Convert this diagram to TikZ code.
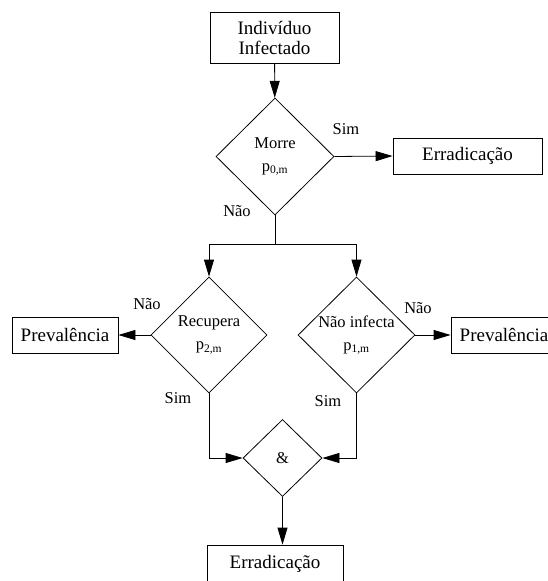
\documentclass[tikz,border=0pt]{standalone}
\usepackage{fontspec}
\setmainfont{Liberation Serif}
\usetikzlibrary{shapes.geometric,arrows.meta}

\tikzset{
	caixa/.style={draw, rectangle, inner sep=0pt, align=center, font=\fontsize{19}{20}\selectfont},
	decisao/.style={draw, diamond, aspect=1, inner sep=0pt, align=center, font=\fontsize{16.5}{23}\selectfont},
	rotulo/.style={inner sep=0pt, font=\fontsize{16.5}{19}\selectfont},
	seta/.style={-{Triangle[length=17pt,width=10pt]}}
}

\begin{document}
\begin{tikzpicture}[x=1pt,y=-1pt,line width=0.8pt]

	\useasboundingbox (0,0) rectangle (547,581);

	% caixas
	\node[caixa, minimum width=129pt, minimum height=51pt] (inicio) at (274.5,37.5) {Indivíduo\\Infectado};
	\node[caixa, minimum width=149pt, minimum height=36pt] (erra1) at (467.5,156) {Erradicação};
	\node[caixa, minimum width=106pt, minimum height=36pt] (prev1) at (65,335) {Prevalência};
	\node[caixa, minimum width=106pt, minimum height=36pt] (prev2) at (504,335) {Prevalência};
	\node[caixa, minimum width=136pt, minimum height=38pt] (erra2) at (275,564) {Erradicação};

	% decisoes
	\node[decisao, minimum width=118pt, minimum height=117pt] (morre) at (275,156.5) {Morre\\p\textsubscript{0,m}};
	\node[decisao, minimum width=116pt, minimum height=116pt] (recup) at (209,335) {Recupera\\p\textsubscript{2,m}};
	\node[decisao, minimum width=117pt, minimum height=116pt] (ninf) at (356.5,335) {Não infecta\\p\textsubscript{1,m}};
	\node[decisao, minimum width=79pt, minimum height=77pt] (e) at (282.5,458) {\&};

	\coordinate (divide) at (275,244.5);

	% ligacoes
	\draw[seta] (inicio) -- (morre);
	\draw[seta] (morre.east) -- (erra1.west);
	\draw (morre.south) -- (divide);
	\draw[seta] (divide) -| (recup.north);
	\draw[seta] (divide) -| (ninf.north);
	\draw[seta] (recup.west) -- (prev1.east);
	\draw[seta] (ninf.east) -- (prev2.west);
	\draw[seta] (recup.south) |- (e.west);
	\draw[seta] (ninf.south) |- (e.east);
	\draw[seta] (e.south) -- (e.south |- erra2.north);

	% rotulos
	\node[rotulo] (sim0) at (346,129) {Sim};
	\node[rotulo] (nao0) at (237,211) {Não};
	\node[rotulo] (nao2) at (147,304) {Não};
	\node[rotulo] (sim2) at (178,398) {Sim};
	\node[rotulo] (nao1) at (418,308) {Não};
	\node[rotulo] (sim1) at (328,401) {Sim};

\end{tikzpicture}
\end{document}
